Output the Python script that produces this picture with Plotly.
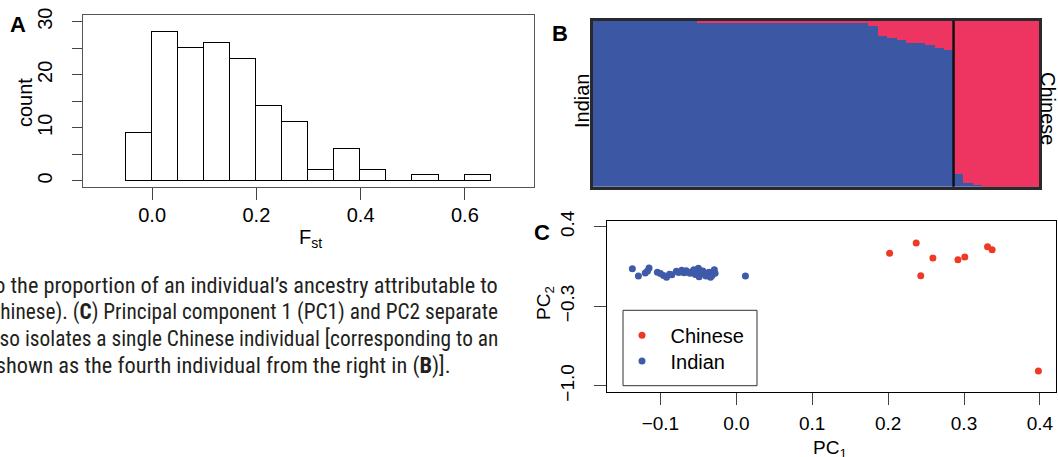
import plotly.graph_objects as go

W, H = 1058, 457

# ---------------- Data ----------------
# Panel A: histogram of Fst (bin starts, width 0.05)
fst_bin_start = [-0.05, 0.00, 0.05, 0.10, 0.15, 0.20, 0.25, 0.30, 0.35, 0.40, 0.45, 0.50, 0.55, 0.60]
fst_counts = [9, 28, 25, 26, 23, 14, 11, 2, 6, 2, 0, 1, 0, 1]
fst_bin_width = 0.05

# Panel B: ancestry proportions (fraction attributable to Chinese cluster)
indian_chinese_frac = ([0.0] * 11 + [0.007] * 18 +
                       [0.03, 0.092, 0.104, 0.116, 0.134, 0.134, 0.146, 0.164, 0.175])
chinese_chinese_frac = [1 - 0.077, 1 - 0.022, 1 - 0.012, 0.997, 0.997, 0.997, 0.997, 0.997, 0.997]

# Panel C: PCA coordinates
chinese_pc1 = [0.202, 0.237, 0.243, 0.259, 0.292, 0.301, 0.331, 0.337, 0.398]
chinese_pc2 = [0.166, 0.256, -0.031, 0.125, 0.110, 0.133, 0.224, 0.198, -0.870]
indian_pc1 = [-0.137, -0.129, -0.120, -0.115, -0.117, -0.104, -0.100, -0.096, -0.092,
              -0.088, -0.085, -0.079, -0.076, -0.072, -0.069, -0.066, -0.064, -0.061,
              -0.058, -0.056, -0.054, -0.052, -0.050, -0.049, -0.048, -0.046, -0.044,
              -0.042, -0.040, -0.038, -0.036, -0.034, -0.032, -0.030, -0.028, -0.029, 0.012]
indian_pc2 = [0.030, -0.034, -0.008, 0.036, 0.010, 0.000, -0.012, -0.030, -0.044,
              -0.018, -0.024, 0.008, -0.004, 0.016, -0.006, 0.012, 0.000, -0.010,
              0.004, 0.022, -0.020, 0.006, 0.034, -0.040, 0.014, -0.002, 0.010,
              -0.014, -0.034, -0.020, 0.000, -0.046, -0.030, 0.006, -0.010, 0.020, -0.034]

fst_ticks = [0.0, 0.2, 0.4, 0.6]
count_ticks = [0, 5, 10, 15, 20, 25, 30]
count_ticktext = ["0", "", "10", "", "20", "", "30"]
pc1_ticks = [-0.1, 0.0, 0.1, 0.2, 0.3, 0.4]
pc2_ticks = [0.4, -0.3, -1.0]

caption_lines = [
    "corresponds to the proportion of an individual’s ancestry attributable to",
    "(Indian or Chinese). (<b>C</b>) Principal component 1 (PC1) and PC2 separate",
    "the two populations and also isolates a single Chinese individual [corresponding to an",
    "the individual shown as the fourth individual from the right in (<b>B</b>)].",
]

# ---------------- Styles ----------------
FONT = "Liberation Sans, Arial, Helvetica, sans-serif"
CAP_FONT = "Liberation Sans Narrow, Arial Narrow, Roboto Condensed, Liberation Sans, sans-serif"
S_BLUE = "#3C58A5"
S_RED = "#EE3562"
P_BLUE = "#3F5AA8"
P_RED = "#EE3A24"


def px_x(p):
    return p / W


def px_y(p):
    return 1 - p / H


fig = go.Figure()

# Panel A
fst_centers = [s + fst_bin_width / 2 for s in fst_bin_start]
fig.add_trace(go.Bar(x=fst_centers, y=fst_counts, width=fst_bin_width,
                     marker=dict(color="white", line=dict(color="black", width=1.2)),
                     xaxis="x", yaxis="y", showlegend=False, hoverinfo="skip"))

# Panel B
all_frac = indian_chinese_frac + chinese_chinese_frac
idx = list(range(len(all_frac)))
fig.add_trace(go.Bar(x=idx, y=[1 - f for f in all_frac], width=1,
                     marker=dict(color=S_BLUE, line=dict(width=0)),
                     xaxis="x2", yaxis="y2", showlegend=False, hoverinfo="skip"))
fig.add_trace(go.Bar(x=idx, y=all_frac, width=1,
                     marker=dict(color=S_RED, line=dict(width=0)),
                     xaxis="x2", yaxis="y2", showlegend=False, hoverinfo="skip"))

# Panel C
fig.add_trace(go.Scatter(x=chinese_pc1, y=chinese_pc2, mode="markers", name="Chinese",
                         marker=dict(color=P_RED, size=7), xaxis="x3", yaxis="y3",
                         legend="legend"))
fig.add_trace(go.Scatter(x=indian_pc1, y=indian_pc2, mode="markers", name="Indian",
                         marker=dict(color=P_BLUE, size=7), xaxis="x3", yaxis="y3",
                         legend="legend2"))

tickfont = dict(family=FONT, size=20, color="black")

common = dict(showgrid=False, zeroline=False, automargin=False)
leg_common = dict(xanchor="left", yanchor="middle",
                  font=dict(family=FONT, size=20, color="black"), bgcolor="rgba(0,0,0,0)",
                  borderwidth=0, itemwidth=47, traceorder="normal")

fig.update_layout(
    width=W, height=H, margin=dict(l=0, r=0, t=0, b=0, autoexpand=False),
    paper_bgcolor="white", plot_bgcolor="white",
    barmode="stack", bargap=0,
    font=dict(family=FONT, color="black"),
    xaxis=dict(domain=[px_x(83.3), px_x(533.7)], range=[-0.132, 0.732], anchor="y",
               tickvals=fst_ticks, tickformat=".1f", ticks="outside", ticklen=12,
               tickcolor="#444", showline=True, mirror=True, linecolor="#555", linewidth=1,
               tickfont=tickfont, ticklabelstandoff=-2, **common),
    yaxis=dict(domain=[px_y(187.3), px_y(15.3)], range=[-1.2, 31.2], anchor="x",
               tickvals=count_ticks, ticktext=count_ticktext, ticks="outside", ticklen=10,
               tickcolor="#444", showline=True, mirror=True, linecolor="#555", linewidth=1,
               tickfont=tickfont, tickangle=-90, ticklabelstandoff=12, **common),
    xaxis2=dict(domain=[px_x(592.7), px_x(1039)], range=[-0.5, len(all_frac) - 0.5],
                anchor="y2", showticklabels=False, ticks="", showline=True, mirror=True,
                linecolor="#2a2a2a", linewidth=2.5, **common),
    yaxis2=dict(domain=[px_y(186.7), px_y(20.7)], range=[0, 1], anchor="x2",
                showticklabels=False, ticks="", showline=True, mirror=True,
                linecolor="#2a2a2a", linewidth=2.5, **common),
    xaxis3=dict(domain=[px_x(606.7), px_x(1056)], range=[-0.1708, 0.4212], anchor="y3",
                tickvals=pc1_ticks, tickformat=".1f", ticks="outside", ticklen=12,
                tickcolor="#444", showline=True, mirror=True, linecolor="black", linewidth=1,
                tickfont=dict(family=FONT, size=19, color="black"),
                ticklabelstandoff=2, **common),
    yaxis3=dict(domain=[px_y(392.3), px_y(220.7)], range=[-1.058, 0.453], anchor="x3",
                tickvals=pc2_ticks, tickformat=".1f", ticks="outside", ticklen=12,
                tickcolor="#444", showline=True, mirror=True, linecolor="black", linewidth=1,
                tickfont=dict(family=FONT, size=19, color="black"),
                tickangle=-90, ticklabelstandoff=12, **common),
    legend=dict(x=px_x(613.5), y=px_y(335.3), **leg_common),
    legend2=dict(x=px_x(613.5), y=px_y(361), **leg_common),
)

# separator between Indian and Chinese in panel B
fig.add_shape(type="line", xref="x2", yref="y2 domain",
              x0=len(indian_chinese_frac) - 0.5, x1=len(indian_chinese_frac) - 0.5, y0=0, y1=1,
              line=dict(color="#111", width=2.5))
# legend box in panel C
fig.add_shape(type="rect", xref="paper", yref="paper",
              x0=px_x(623), x1=px_x(757), y0=px_y(385.7), y1=px_y(310.3),
              line=dict(color="#333", width=1))

ann = []


def add_text(text, x, y, size=20, angle=0, bold=False, xanchor="center", font=FONT, color="black"):
    if bold:
        text = "<b>" + text + "</b>"
    ann.append(dict(text=text, x=px_x(x), y=px_y(y), xref="paper", yref="paper",
                    xanchor=xanchor, yanchor="middle", showarrow=False, textangle=angle,
                    font=dict(family=font, size=size, color=color)))


add_text("A", 18, 25, size=22, bold=True)
add_text("B", 560, 33, size=22, bold=True)
add_text("C", 542, 232, size=22, bold=True)
add_text("count", 25, 103, angle=-90)
add_text("F<sub>st</sub>", 310, 238)
add_text("Indian", 582, 101, angle=-90)
add_text("Chinese", 1048, 108, angle=90)
add_text("PC<sub>1</sub>", 830, 449, size=19)
add_text("PC<sub>2</sub>", 545, 303, size=19, angle=-90)

cap_color = "#231F20"
cap_sizes = [22.3, 21.3, 21.35, 22.35]
cap_right = [500, 500, 500, 452.5]
cap_y = [285, 311.7, 338, 365]
for line, sz, xr, yy in zip(caption_lines, cap_sizes, cap_right, cap_y):
    add_text(line, xr, yy, size=sz, xanchor="right", font=CAP_FONT, color=cap_color)

fig.update_layout(annotations=ann)
fig.write_html("out.html", config={"displayModeBar": False},
               post_script="document.body.style.margin='0';document.body.style.padding='0';")
